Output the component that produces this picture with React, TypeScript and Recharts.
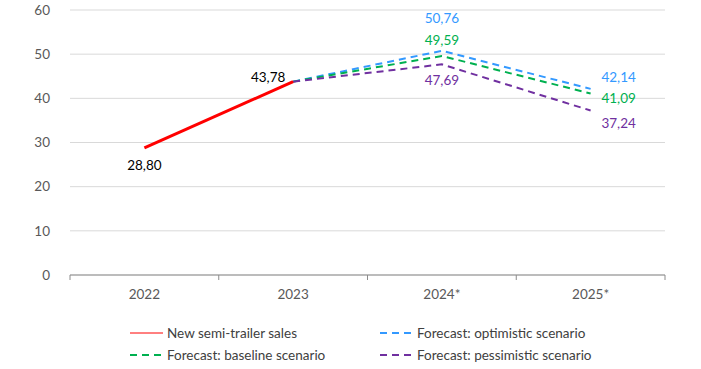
import React from "react";
import {
  LineChart,
  Line,
  XAxis,
  YAxis,
  CartesianGrid,
  LabelList,
  Legend,
} from "recharts";

const years = ["2022", "2023", "2024*", "2025*"];
const sales = [28.8, 43.78, null, null];
const optimistic = [null, 43.78, 50.76, 42.14];
const baseline = [null, 43.78, 49.59, 41.09];
const pessimistic = [null, 43.78, 47.69, 37.24];
const yTicks = [0, 10, 20, 30, 40, 50, 60];

const data = years.map((year, i) => ({
  year,
  sales: sales[i],
  optimistic: optimistic[i],
  baseline: baseline[i],
  pessimistic: pessimistic[i],
}));

const FONT = "Lato, 'Liberation Sans', sans-serif";
const fmt = (v: number) => v.toFixed(2).replace(".", ",");

// label offsets per series, per point index (missing = no label)
const labelOffsets: Record<string, Record<number, [number, number]>> = {
  sales: { 0: [0, 17], 1: [-25, -5] },
  optimistic: { 2: [0, -33], 3: [28, -12] },
  baseline: { 2: [0, -16], 3: [28, 4] },
  pessimistic: { 2: [0, 16], 3: [28, 12] },
};

function makeLabel(key: string, color: string) {
  return (props: any) => {
    const { x, y, value, index } = props;
    const off = labelOffsets[key][index];
    if (!off || value == null) return null;
    return (
      <text
        x={x + off[0]}
        y={y + off[1]}
        textAnchor="middle"
        dominantBaseline="central"
        fontSize={13.5}
        fontFamily={FONT}
        fill={color}
      >
        {fmt(value)}
      </text>
    );
  };
}

const HALF = 74.375;

function XTick(props: any) {
  const { x, y, payload, index } = props;
  return (
    <g>
      <line x1={x - HALF} x2={x - HALF} y1={y - 8} y2={y - 3} stroke="#8c8c8c" />
      {index === years.length - 1 && (
        <line x1={x + HALF} x2={x + HALF} y1={y - 8} y2={y - 3} stroke="#8c8c8c" />
      )}
      <text
        x={x}
        y={y + 11}
        textAnchor="middle"
        dominantBaseline="central"
        fontSize={13.5}
        fontFamily={FONT}
        fill="#595959"
      >
        {payload.value}
      </text>
    </g>
  );
}

const legendItems = [
  { name: "New semi-trailer sales", color: "#ff0000", dashed: false },
  { name: "Forecast: optimistic scenario", color: "#3399ff", dashed: true },
  { name: "Forecast: baseline scenario", color: "#00b050", dashed: true },
  { name: "Forecast: pessimistic scenario", color: "#7030a0", dashed: true },
];

function renderLegend() {
  return (
    <div style={{ position: "relative", width: 701, height: 44 }}>
      {legendItems.map((it, i) => {
        const left = i % 2 === 0 ? 130 : 380;
        const top = i < 2 ? 0 : 22;
        return (
          <div
            key={it.name}
            style={{
              position: "absolute",
              left,
              top,
              display: "flex",
              alignItems: "center",
              height: 22,
              fontFamily: FONT,
              fontSize: 13.5,
              color: "#404040",
              whiteSpace: "nowrap",
            }}
          >
            <svg width={34} height={6} style={{ marginRight: 3 }}>
              <line
                x1={0}
                x2={33}
                y1={3}
                y2={3}
                stroke={it.color}
                strokeWidth={it.dashed ? 2 : 1}
                strokeDasharray={it.dashed ? "7 5" : undefined}
              />
            </svg>
            {it.name}
          </div>
        );
      })}
    </div>
  );
}

export default function App() {
  return (
    <div style={{ position: "absolute", left: 0, top: 0, background: "#fff" }}>
      <LineChart
        width={701}
        height={369}
        data={data}
        margin={{ top: 10, right: 36, left: 30, bottom: 25 }}
      >
        <CartesianGrid vertical={false} stroke="#d9d9d9" />
        <XAxis
          dataKey="year"
          padding={{ left: HALF, right: HALF }}
          axisLine={{ stroke: "#8c8c8c" }}
          tickLine={false}
          tick={<XTick />}
          interval={0}
          height={25}
        />
        <YAxis
          width={40}
          domain={[0, 60]}
          ticks={yTicks}
          axisLine={false}
          tickLine={false}
          tickMargin={14}
          tick={{ fontSize: 13.5, fontFamily: FONT, fill: "#595959" }}
        />
        <Legend
          verticalAlign="bottom"
          content={renderLegend}
          wrapperStyle={{ left: 0, top: 322, width: 701, height: 44 }}
        />
        <Line
          dataKey="optimistic"
          stroke="#3399ff"
          strokeWidth={2}
          strokeDasharray="7 5"
          dot={false}
          isAnimationActive={false}
        >
          <LabelList dataKey="optimistic" content={makeLabel("optimistic", "#3399ff")} />
        </Line>
        <Line
          dataKey="baseline"
          stroke="#00b050"
          strokeWidth={2}
          strokeDasharray="7 5"
          dot={false}
          isAnimationActive={false}
        >
          <LabelList dataKey="baseline" content={makeLabel("baseline", "#00b050")} />
        </Line>
        <Line
          dataKey="pessimistic"
          stroke="#7030a0"
          strokeWidth={2}
          strokeDasharray="7 5"
          dot={false}
          isAnimationActive={false}
        >
          <LabelList dataKey="pessimistic" content={makeLabel("pessimistic", "#7030a0")} />
        </Line>
        <Line
          dataKey="sales"
          stroke="#ff0000"
          strokeWidth={3}
          dot={false}
          isAnimationActive={false}
        >
          <LabelList dataKey="sales" content={makeLabel("sales", "#000000")} />
        </Line>
      </LineChart>
    </div>
  );
}
